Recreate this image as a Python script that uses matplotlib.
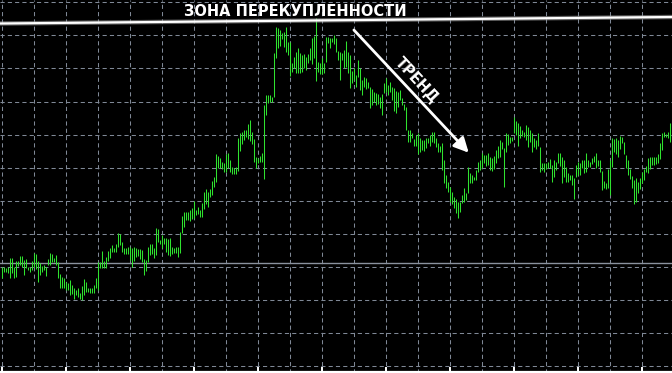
import numpy as np
import matplotlib
matplotlib.use("Agg")
import matplotlib.pyplot as plt

# bar highs / lows (price in points, one bar every 2 px)
high = [
    106, 106, 105, 106, 115, 115, 106, 112, 112, 117,
    117, 113, 114, 106, 106, 112, 120, 119, 112, 110,
    107, 108, 106, 114, 120, 119, 115, 118, 111, 99,
    96, 95, 91, 90, 93, 88, 85, 83, 85, 80,
    87, 94, 91, 85, 85, 85, 88, 95, 111, 111,
    122, 112, 116, 122, 125, 128, 125, 129, 140, 139,
    131, 125, 125, 126, 126, 125, 126, 125, 124, 124,
    123, 114, 113, 126, 129, 129, 125, 145, 144, 133,
    138, 135, 135, 134, 135, 126, 125, 126, 126, 141,
    157, 161, 161, 161, 163, 165, 172, 163, 166, 163,
    170, 181, 184, 181, 184, 192, 196, 219, 217, 215,
    211, 210,
    219, 220, 213, 206, 205, 206, 235, 240,
    241, 243, 243, 249, 253, 241, 234, 216, 215, 217,
    220, 268, 278, 278, 278, 276, 320, 346, 345, 343,
    340, 341, 346, 331, 331, 310, 316, 321, 325, 320,
    318, 319, 316, 319, 325, 335, 337, 355, 311, 310,
    315, 310, 336, 336, 335, 335, 338, 335, 322, 321,
    320, 323, 332, 321, 318, 302, 305, 298, 313, 305,
    293, 296, 295, 291, 286, 284, 281, 280, 279, 276,
    279, 290, 295, 288, 291, 286, 285, 282, 281, 283,
    275, 269, 266, 243, 243, 240, 234, 238, 240, 235,
    233, 233, 235, 235, 238, 241, 241, 235, 230, 227,
    230, 213, 198, 191,
    186, 181, 176, 174, 171, 171,
    178, 185, 180, 206, 200, 198, 196, 203, 211, 213,
    220, 218, 218, 220, 216, 215, 217, 223, 227, 233,
    231, 225, 240, 239, 236, 236, 256, 252, 250, 247,
    243, 241, 248, 246, 243, 240, 235, 233, 240, 226,
    210, 210, 210, 211, 214, 208, 213, 211, 220, 220,
    216, 213, 206, 200, 198, 198, 195, 208, 211, 210,
    213, 213, 220, 213, 211, 215, 217, 220, 213, 213,
    202, 192, 190, 204, 213, 235, 234, 235, 233, 237,
    236, 231, 218, 213, 204, 197, 193, 195, 191, 195,
    201, 204, 207, 215, 216, 216, 216, 216, 219, 230,
    240, 241, 239, 241, 250, 243,
]
low = [
    95, 101, 101, 100, 95, 100, 95, 96, 107, 108,
    106, 98, 105, 103, 101, 103, 106, 104, 91, 98,
    101, 103, 97, 108, 108, 111, 111, 108, 95, 85,
    85, 85, 83, 83, 78, 79, 74, 78, 76, 74,
    73, 78, 81, 81, 80, 80, 80, 85, 83, 105,
    105, 105, 105, 112, 115, 121, 121, 121, 126, 128,
    121, 119, 119, 119, 113, 106, 112, 116, 117, 114,
    111, 98, 102, 111, 118, 119, 115, 118, 131, 129,
    125, 129, 121, 118, 117, 119, 120, 120, 116, 120,
    140, 146, 153, 153, 152, 154, 155, 158, 159, 156,
    156, 164, 169, 166, 176, 178, 186, 191, 205, 205,
    204, 201,
    201, 205, 201, 199, 199, 199, 202, 222,
    229, 233, 236, 234, 232, 229, 211, 205, 210, 211,
    211, 194, 258, 270, 271, 271, 276, 315, 325, 327,
    334, 326, 321, 318, 297, 301, 305, 300, 300, 300,
    301, 305, 303, 310, 313, 309, 315, 292, 301, 299,
    299, 300, 311, 330, 325, 331, 329, 321, 313, 293,
    313, 305, 306, 300, 285, 290, 293, 286, 296, 283,
    278, 286, 284, 285, 265, 268, 271, 268, 269, 265,
    258, 280, 281, 278, 281, 273, 262, 260, 266, 273,
    268, 263, 243, 231, 231, 235, 227, 227, 219, 221,
    223, 222, 225, 230, 227, 231, 230, 226, 221, 221,
    203, 190, 185, 181,
    171, 169, 165, 160, 155, 161,
    170, 171, 173, 180, 190, 190, 193, 193, 201, 203,
    205, 210, 207, 208, 203, 202, 204, 210, 215, 216,
    224, 186, 221, 228, 230, 232, 240, 238, 227, 235,
    237, 236, 233, 226, 231, 221, 226, 224, 227, 201,
    203, 201, 204, 205, 205, 191, 196, 203, 210, 207,
    190, 196, 191, 191, 193, 188, 174, 196, 198, 198,
    205, 200, 201, 206, 206, 209, 211, 205, 207, 201,
    183, 185, 184, 185, 178, 206, 221, 219, 216, 224,
    230, 219, 205, 198, 194, 185, 169, 171, 180, 184,
    190, 193, 201, 200, 204, 208, 208, 209, 210, 214,
    223, 236, 236, 235, 231, 236,
]

# chart levels / annotations
grid_prices = [6.7, 39.8, 72.9, 106.0, 139.1, 172.2, 205.3, 238.4, 271.5, 304.6, 337.7, 370.8]
grid_bars = list(range(0, 336, 16))
time_ticks = list(range(0, 336, 32))
level_price = 109.7
zone_start, zone_end = 349.5, 356.0
trend_from = (176.2, 343.0)
trend_to = (233.6, 220.3)

n = len(high)
idx = np.arange(n)

fig = plt.figure(figsize=(6.72, 3.73), dpi=100, facecolor="black")
ax = fig.add_axes([0, 0, 1, 1])
ax.set_facecolor("black")
ax.set_xlim(-0.75, n - 0.75)
ax.set_ylim(0, 373)
ax.axis("off")

gcol = "#7f8896"
for p in grid_prices:
    ax.axhline(p, color=gcol, lw=0.75, ls=(0, (4, 3)), zorder=1)
for b in grid_bars:
    ax.axvline(b, color=gcol, lw=0.75, ls=(0, (4, 3)), zorder=1)

ax.axhline(level_price, color="#8a929e", lw=1.0, zorder=2)

# bottom time scale
ax.axhline(1.2, color="white", lw=1.6, zorder=5)
ax.vlines(time_ticks, 0, 6.5, color="white", lw=1.4, zorder=5)

# bars
ax.vlines(idx, low, high, color="#2fe22f", lw=0.75, zorder=3)

# overbought zone line
xs = [-0.75, n - 0.75]
ax.plot(xs, [zone_start, zone_end], color="#9a9a9a", lw=3.2, alpha=0.6,
        solid_capstyle="butt", zorder=4)
ax.plot(xs, [zone_start, zone_end], color="white", lw=1.6,
        solid_capstyle="butt", zorder=4)
ax.text(146.8, 361.8, "ЗОНА ПЕРЕКУПЛЕННОСТИ", color="white", fontsize=10.5,
        fontweight="bold", family="DejaVu Sans", ha="center", va="center",
        zorder=6)

# trend arrow
ax.annotate("", xy=trend_to, xytext=trend_from,
            arrowprops=dict(arrowstyle="-|>", color="white", lw=2.0,
                            mutation_scale=22, shrinkA=0, shrinkB=0),
            zorder=6)
ax.text(207.5, 293, "ТРЕНД", color="white", fontsize=10.5, fontweight="bold",
        family="DejaVu Sans", rotation=-47, ha="center", va="center",
        rotation_mode="anchor", zorder=6)

fig.savefig("out.png", dpi=100, facecolor="black")
